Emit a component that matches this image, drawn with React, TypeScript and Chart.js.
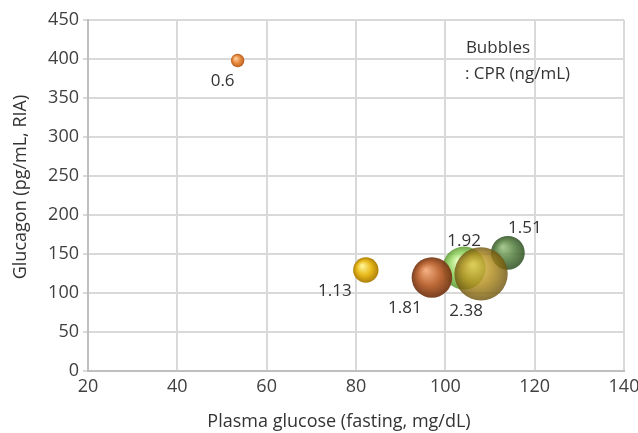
import React, { useEffect, useRef } from "react";
import { Chart, registerables } from "chart.js";

Chart.register(...registerables);

// Data (drawing order)
const glucose = [53.5, 82.2, 104.2, 97, 114, 108];
const glucagon = [398, 129.5, 132, 120, 151.5, 124.5];
const cpr = [0.6, 1.13, 1.92, 1.81, 1.51, 2.38];
const cprLabels = ["0.6", "1.13", "1.92", "1.81", "1.51", "2.38"];
const xTicks = [20, 40, 60, 80, 100, 120, 140];
const yTicks = [0, 50, 100, 150, 200, 250, 300, 350, 400, 450];
const xTitle = "Plasma glucose (fasting, mg/dL)";
const yTitle = "Glucagon (pg/mL, RIA)";
const noteLines = ["Bubbles", ": CPR (ng/mL)"];

// Styles
const bubbleColors: [string, string, string][] = [
  ["rgba(252,210,160,1)", "rgba(232,138,60,1)", "rgba(185,95,35,1)"],
  ["rgba(255,245,150,1)", "rgba(232,186,28,1)", "rgba(175,128,10,1)"],
  ["rgba(220,250,175,0.85)", "rgba(140,208,88,0.85)", "rgba(90,150,48,0.85)"],
  ["rgba(242,168,120,0.95)", "rgba(184,96,44,0.95)", "rgba(115,55,22,0.95)"],
  ["rgba(150,190,125,0.88)", "rgba(85,127,64,0.88)", "rgba(50,82,38,0.88)"],
  ["rgba(230,200,80,0.82)", "rgba(176,140,28,0.82)", "rgba(110,84,14,0.82)"],
];
const labelOffsets: [number, number][] = [
  [-15, 21],
  [-31, 21],
  [0, -27],
  [-27, 31],
  [17, -25],
  [-15, 37],
];

const FONT = '"Open Sans", "Noto Sans", sans-serif';
const TEXT = "#333333";

const labelPlugin = {
  id: "bubbleLabels",
  afterDatasetsDraw(chart: any) {
    const { ctx, scales, chartArea } = chart;
    ctx.save();
    ctx.font = `17px ${FONT}`;
    ctx.fillStyle = TEXT;
    ctx.textAlign = "center";
    ctx.textBaseline = "middle";
    cprLabels.forEach((t, i) => {
      const px = scales.x.getPixelForValue(glucose[i]) + labelOffsets[i][0];
      const py = scales.y.getPixelForValue(glucagon[i]) + labelOffsets[i][1];
      ctx.fillText(t, px, py);
    });
    ctx.textAlign = "left";
    const ax = scales.x.getPixelForValue(104.6);
    ctx.fillText(noteLines[0], ax, scales.y.getPixelForValue(414));
    ctx.fillText(noteLines[1], ax - 1, scales.y.getPixelForValue(381));

    // axis titles
    ctx.font = `18px ${FONT}`;
    ctx.textAlign = "center";
    ctx.textBaseline = "alphabetic";
    ctx.fillText(xTitle, chartArea.left + 251, chartArea.bottom + 56);
    ctx.translate(chartArea.left - 62, chartArea.top + 167);
    ctx.rotate(-Math.PI / 2);
    ctx.fillText(yTitle, 0, 0);
    ctx.restore();
  },
};

export default function App() {
  const ref = useRef<HTMLCanvasElement>(null);
  useEffect(() => {
    document.body.style.margin = "0";
    const radius = (c: number) => 11.2 * c;
    const chart = new Chart(ref.current!, {
      type: "bubble",
      data: {
        datasets: [
          {
            data: glucose.map((x, i) => ({ x, y: glucagon[i], r: radius(cpr[i]) })),
            borderWidth: 0,
            backgroundColor: (context: any) => {
              const i = context.dataIndex;
              const chart = context.chart;
              const { scales, ctx } = chart;
              if (i === undefined || !scales.x || !scales.y) return bubbleColors[0][1];
              const cx = scales.x.getPixelForValue(glucose[i]);
              const cy = scales.y.getPixelForValue(glucagon[i]);
              if (!isFinite(cx) || !isFinite(cy)) return bubbleColors[i][1];
              const r = radius(cpr[i]);
              const g = ctx.createRadialGradient(cx - r * 0.3, cy - r * 0.35, r * 0.05, cx, cy, r);
              const [hi, mid, dark] = bubbleColors[i];
              g.addColorStop(0, hi);
              g.addColorStop(0.55, mid);
              g.addColorStop(1, dark);
              return g;
            },
          },
        ],
      },
      options: {
        animation: false,
        responsive: false,
        devicePixelRatio: 1,
        layout: { autoPadding: false, padding: { left: 0, right: 14, top: 20, bottom: 0 } },
        plugins: { legend: { display: false }, tooltip: { enabled: false } },
        scales: {
          x: {
            type: "linear",
            min: 20,
            max: 140,
            afterBuildTicks: (s: any) => {
              s.ticks = xTicks.map((v) => ({ value: v }));
            },
            afterFit: (s: any) => {
              s.height = 62;
              s.paddingLeft = 0;
              s.paddingRight = 0;
            },
            grid: { color: "#d9d9d9", lineWidth: 2, drawTicks: false },
            border: { color: "#bfbfbf", width: 2 },
            ticks: { color: "#404040", font: { family: FONT, size: 18 }, padding: 5 },
          },
          y: {
            type: "linear",
            min: 0,
            max: 450,
            afterBuildTicks: (s: any) => {
              s.ticks = yTicks.map((v) => ({ value: v }));
            },
            afterFit: (s: any) => {
              s.width = 88;
              s.paddingTop = 0;
              s.paddingBottom = 0;
            },
            grid: { color: "#d9d9d9", lineWidth: 2, tickLength: 5 },
            border: { color: "#bfbfbf", width: 2 },
            ticks: { color: "#404040", font: { family: FONT, size: 18 }, padding: 4 },
          },
        },
      },
      plugins: [labelPlugin],
    });
    return () => chart.destroy();
  }, []);
  return (
    <div style={{ width: 638, height: 433, background: "#fff" }}>
      <canvas ref={ref} width={638} height={433} />
    </div>
  );
}
